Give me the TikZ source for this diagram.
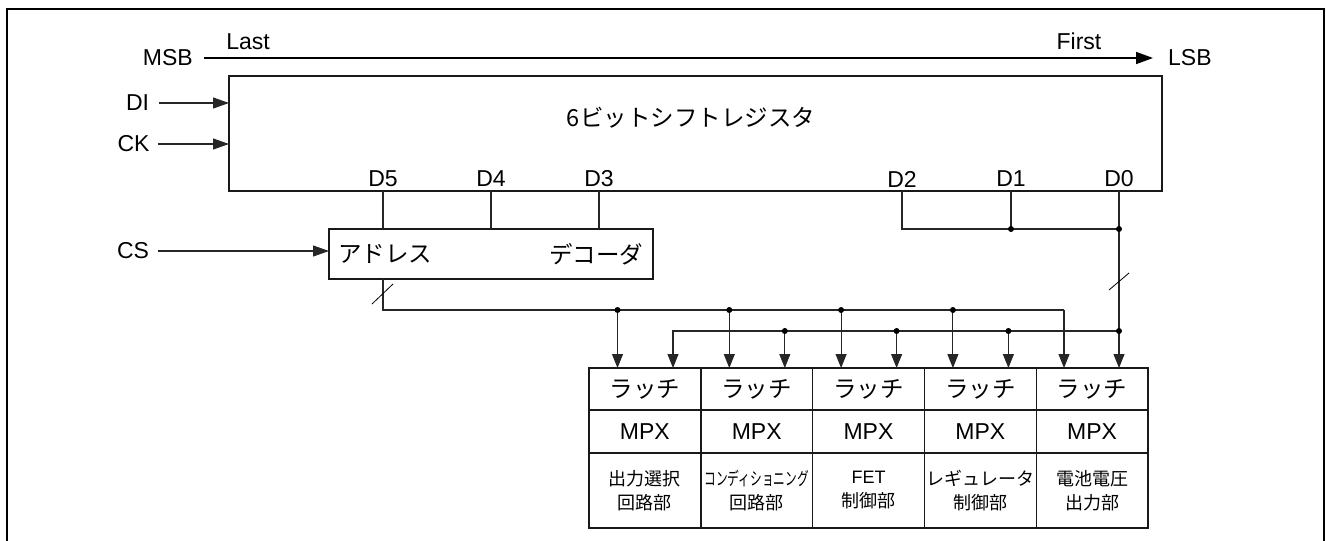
\documentclass[tikz,border=0pt]{standalone}
\usepackage{fontspec}
\setmainfont{Liberation Sans}
\newfontfamily\jp{Noto Sans CJK JP}
\usetikzlibrary{arrows.meta}
\begin{document}
\begin{tikzpicture}[x=1pt,y=-1pt,
  conn/.style={line width=1.1pt, draw=black!85},
  box/.style={draw=black!90, line width=1.4pt, inner sep=0pt, outer sep=0pt},
  lbl/.style={font=\fontsize{23}{26}\selectfont, inner sep=0pt},
  jtxt/.style={font=\jp\fontsize{23.5}{27}\selectfont, inner sep=0pt},
  cellsmall/.style={font=\jp\fontsize{18}{24}\selectfont, inner sep=0pt, align=center},
  arr/.style={-{Triangle[length=16pt,width=11pt]}},
  darr/.style={-{Triangle[length=14pt,width=11pt]}},
  dot/.style={circle, fill=black, inner sep=0pt, minimum size=6pt},
  cell/.style={box, minimum width=111.8pt, anchor=north west},
]
\useasboundingbox (0,0) rectangle (1326,541);
% outer frame
\draw[line width=2.5pt] (7,560) -- (7,9) -- (1324,9) -- (1324,560);

% MSB -> LSB
\node[lbl, anchor=east] (msb) at (193,58) {MSB};
\node[lbl, anchor=west] (lsb) at (1168,58) {LSB};
\coordinate (ms) at (204,58);
\coordinate (ls) at (1153,58);
\draw[line width=1.6pt, -{Triangle[length=17pt,width=12pt]}] (ms) -- (ls);
\node[lbl] (last) at (248,42) {Last};
\node[lbl] (first) at (1079,41) {First};

% shift register
\node[box, minimum width=933pt, minimum height=115pt, anchor=north west] (sr) at (229,76) {};
\node[jtxt] (srt) at (691,118) {6ビットシフトレジスタ};
\node[lbl] (di) at (137.5,103) {DI};
\node[lbl] (ck) at (133.5,144) {CK};
\draw[conn,arr] ([xshift=10pt]di.east) -- (di.east -| sr.west);
\draw[conn,arr] ([xshift=8pt]ck.east) -- (ck.east -| sr.west);

\node[lbl] (d5) at (383,179) {D5};
\node[lbl] (d4) at (491,179) {D4};
\node[lbl] (d3) at (599,179) {D3};
\node[lbl] (d2) at (902,179) {D2};
\node[lbl] (d1) at (1011,179) {D1};
\node[lbl] (d0) at (1119,179) {D0};

% address decoder
\node[box, minimum width=324pt, minimum height=50pt, anchor=north west] (dec) at (329,229) {};
\node[jtxt] (adr) at (385,254) {アドレス};
\node[jtxt] (dco) at (596,254) {デコーダ};
\node[lbl] (cs) at (133,251) {CS};
\draw[conn,arr] ([xshift=9pt]cs.east) -- (cs.east -| dec.west);

\draw[conn] (d5 |- sr.south) -- (d5 |- dec.north);
\draw[conn] (d4 |- sr.south) -- (d4 |- dec.north);
\draw[conn] (d3 |- sr.south) -- (d3 |- dec.north);

% D2..D0
\coordinate (j1) at (1011,229);
\coordinate (j0) at (1119,229);
\coordinate (j2) at (1119,331);
\draw[conn] (d2 |- sr.south) |- (j0);
\draw[conn] (d1 |- sr.south) -- (j1);
\draw[conn] (d0 |- sr.south) -- (j0);

% latch block
\foreach \i/\x in {1/589,2/700.8,3/812.6,4/924.4,5/1036.2}{
  \node[cell, minimum height=42pt] (l\i) at (\x,368) {};
  \node[cell, minimum height=43pt] (m\i) at (\x,410) {};
  \node[cell, minimum height=75pt] (f\i) at (\x,453) {};
  \node[jtxt] at (l\i.center) {ラッチ};
  \node[lbl] at (m\i.center) {MPX};
}
\node[cellsmall] (t1) at (f1.center) {出力選択\\回路部};
\node[cellsmall] (t2) at (f2.center) {\scalebox{0.65}[1]{コンディショニング}\\回路部};
\node[cellsmall] (t3) at (f3.center) {{\rmfamily FET}\\制御部};
\node[cellsmall] (t4) at (f4.center) {レギュレータ\\制御部};
\node[cellsmall] (t5) at (f5.center) {電池電圧\\出力部};

% bus 1 (decoder output)
\foreach \i/\x in {1/617.5,2/729.3,3/841.1,4/952.9,5/1064}{
  \coordinate (a\i) at (\x,310);
}
\foreach \i/\x in {1/673,2/784.8,3/896.6,4/1008.4,5/1119}{
  \coordinate (b\i) at (\x,331);
}
\draw[conn] (d5 |- dec.south) |- (a5);
\draw[conn,darr] (a5) -- (a5 |- l5.north);
\foreach \i in {1,2,3,4}{
  \draw[conn,darr] (a\i) -- (a\i |- l\i.north);
  \node[dot] at (a\i) {};
}
% bus 2 (D2..D0)
\draw[conn] (j0) -- (j2);
\draw[conn,darr] (j2) -- (b1) -- (b1 |- l1.north);
\foreach \i in {2,3,4,5}{
  \draw[conn,darr] (b\i) -- (b\i |- l\i.north);
  \node[dot] at (b\i) {};
}
\node[dot] at (j1) {};
\node[dot] at (j0) {};

% bus width slashes
\draw[line width=0.8pt] (372,304) -- (393,284);
\draw[line width=0.8pt] (1109,290) -- (1129,273);
\end{tikzpicture}
\end{document}
